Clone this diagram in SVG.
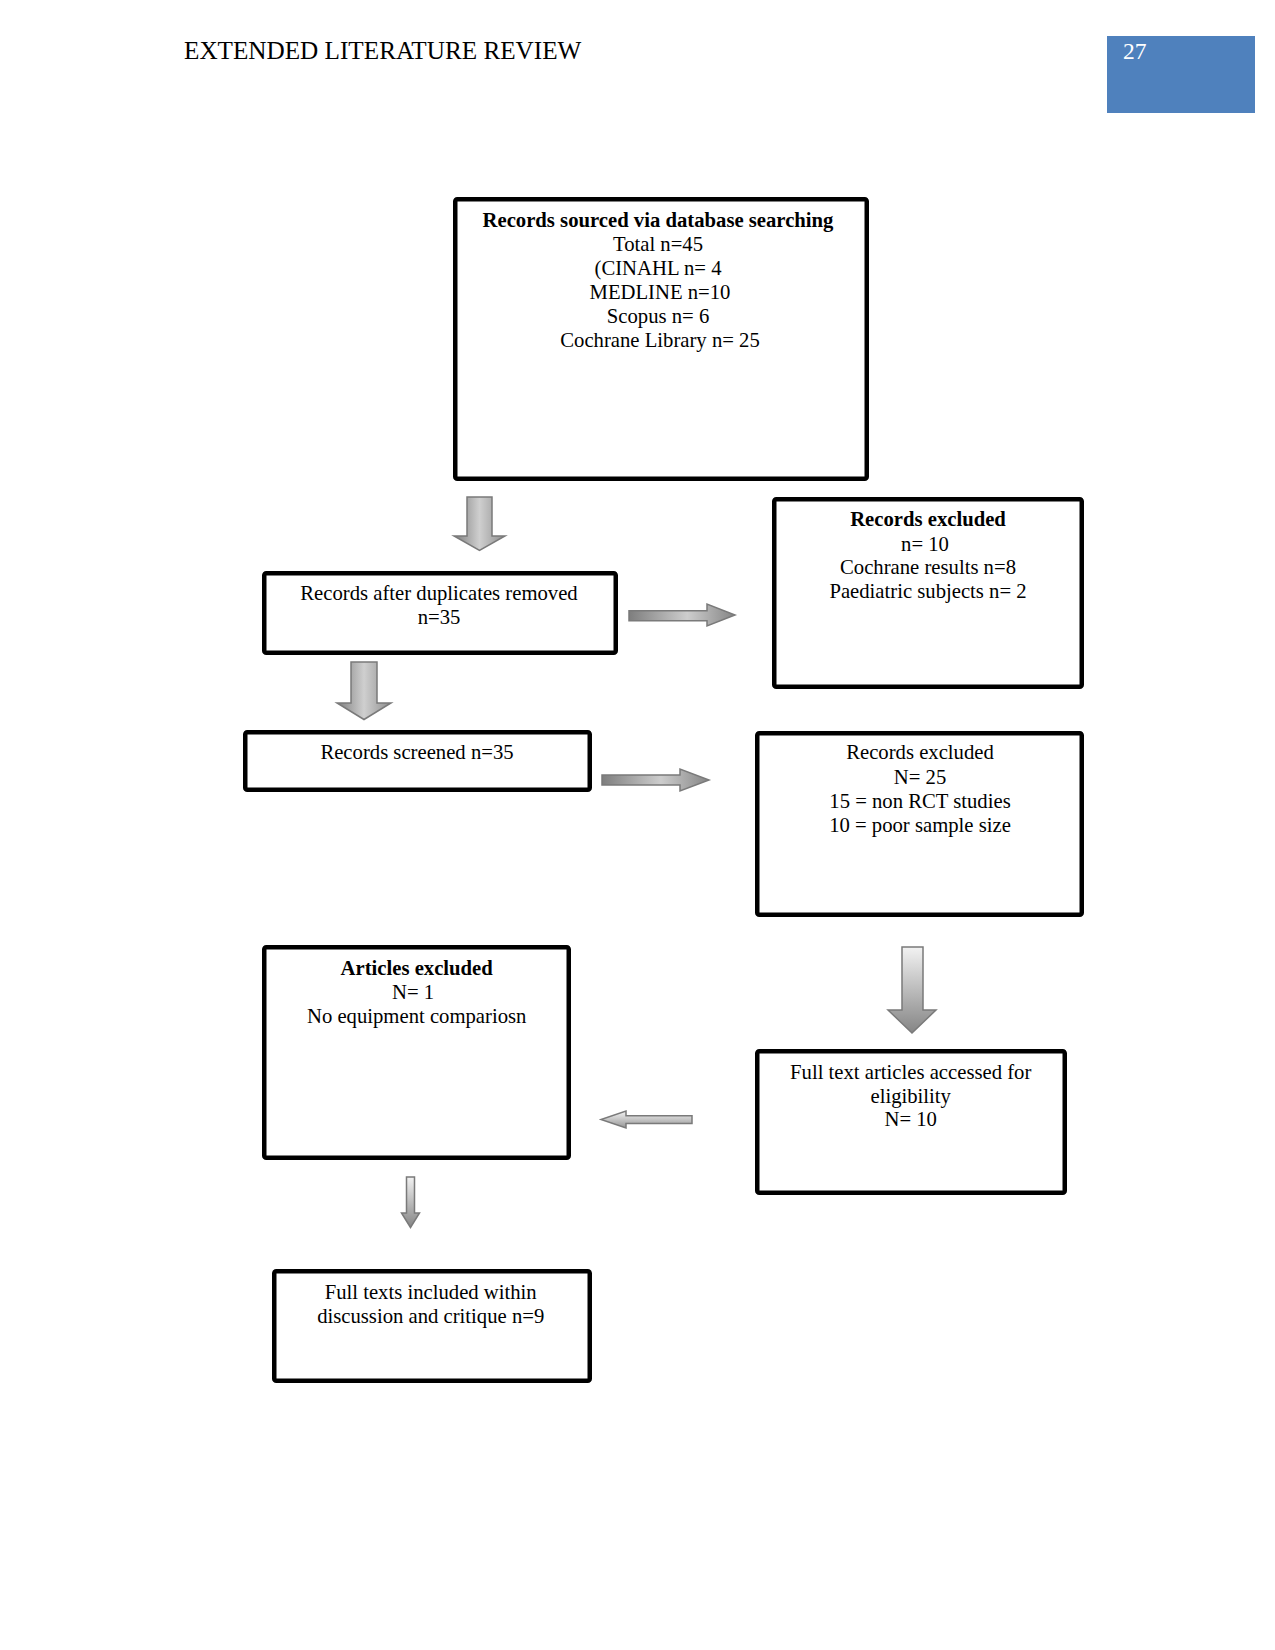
<svg xmlns="http://www.w3.org/2000/svg" width="1275" height="1650" viewBox="0 0 1275 1650">
<defs>
<style>
.box{fill:#fff;stroke:#000;stroke-width:4.5}
.t{font-family:"Liberation Serif","Times New Roman",serif;font-size:20.7px;fill:#000;text-anchor:middle}
.b{font-weight:bold}
.arr{stroke:#7a7a7a;stroke-width:1.5;stroke-linejoin:miter}
.hd{font-family:"Liberation Serif","Times New Roman",serif;font-size:25.2px;fill:#000}
</style>
<linearGradient id="gv" x1="0" y1="0" x2="1" y2="0">
<stop offset="0" stop-color="#7e7e7e"/><stop offset="0.5" stop-color="#cfcfcf"/><stop offset="1" stop-color="#8e8e8e"/>
</linearGradient>
<linearGradient id="gv2" x1="0" y1="0" x2="0" y2="1">
<stop offset="0" stop-color="#f2f2f2"/><stop offset="1" stop-color="#858585"/>
</linearGradient>
<linearGradient id="gh" x1="0" y1="0" x2="1" y2="0">
<stop offset="0" stop-color="#7e7e7e"/><stop offset="0.55" stop-color="#cdcdcd"/><stop offset="1" stop-color="#858585"/>
</linearGradient>
<linearGradient id="gh2" x1="0" y1="0" x2="0" y2="1">
<stop offset="0" stop-color="#f4f4f4"/><stop offset="1" stop-color="#959595"/>
</linearGradient>
</defs>
<rect width="1275" height="1650" fill="#fff"/>
<g id="header">
<text class="hd" x="184" y="59">EXTENDED LITERATURE REVIEW</text>
<rect x="1107" y="36" width="148" height="77" fill="#4F81BD"/>
<text x="1123" y="59" style="font-family:'Liberation Serif',serif;font-size:23.5px;fill:#fff">27</text>
</g>
<g id="connectors">
<polygon class="arr" fill="url(#gv)" points="467,497 492,497 492,536 505,536 479.5,550.5 454,536 467,536"/>
<polygon class="arr" fill="url(#gh)" points="629,610.7 707,610.7 707,604 735,615 707,626 707,620.7 629,620.7"/>
<polygon class="arr" fill="url(#gv)" points="351,662 377,662 377,703 391,703 364,719.5 337,703 351,703"/>
<polygon class="arr" fill="url(#gh)" points="602,775 680,775 680,769 709,780 680,791 680,785 602,785"/>
<polygon class="arr" fill="url(#gv2)" points="902,947 923,947 923,1010 936,1010 912,1033 888,1010 902,1010"/>
<polygon class="arr" fill="url(#gh2)" points="692,1115.7 626,1115.7 626,1111 601,1119.5 626,1128 626,1123.5 692,1123.5"/>
<polygon class="arr" fill="url(#gv2)" points="406.5,1177 414.5,1177 414.5,1213 419.5,1213 410.5,1227.5 401.5,1213 406.5,1213"/>
</g>
<g id="n1">
<rect class="box" x="455.25" y="199.25" width="411.5" height="279.5" rx="2"/>
<text class="t b" x="658" y="227">Records sourced via database searching</text>
<text class="t" x="658" y="251">Total n=45</text>
<text class="t" x="658" y="275">(CINAHL n= 4</text>
<text class="t" x="660" y="299">MEDLINE n=10</text>
<text class="t" x="658" y="322.5">Scopus n= 6</text>
<text class="t" x="660" y="346.5">Cochrane Library n= 25</text>
</g>
<g id="n2">
<rect class="box" x="774.25" y="499.25" width="307.5" height="187.5" rx="2"/>
<text class="t b" x="928" y="526">Records excluded</text>
<text class="t" x="925" y="551">n= 10</text>
<text class="t" x="928" y="574">Cochrane results n=8</text>
<text class="t" x="928" y="598">Paediatric subjects n= 2</text>
</g>
<g id="n3">
<rect class="box" x="264.25" y="573.25" width="351.5" height="79.5" rx="2"/>
<text class="t" x="439" y="600.3">Records after duplicates removed</text>
<text class="t" x="439" y="624.3">n=35</text>
</g>
<g id="n4">
<rect class="box" x="245.25" y="732.25" width="344.5" height="57.5" rx="2"/>
<text class="t" x="417" y="759.3">Records screened n=35</text>
</g>
<g id="n5">
<rect class="box" x="757.25" y="733.25" width="324.5" height="181.5" rx="2"/>
<text class="t" x="920" y="759.3">Records excluded</text>
<text class="t" x="920" y="784.3">N= 25</text>
<text class="t" x="920" y="808.3">15 = non RCT studies</text>
<text class="t" x="920" y="832">10 = poor sample size</text>
</g>
<g id="n6">
<rect class="box" x="264.25" y="947.25" width="304.5" height="210.5" rx="2"/>
<text class="t b" x="416.7" y="975.3">Articles excluded</text>
<text class="t" x="413" y="998.7">N= 1</text>
<text class="t" x="416.7" y="1022.7">No equipment compariosn</text>
</g>
<g id="n7">
<rect class="box" x="757.25" y="1051.25" width="307.5" height="141.5" rx="2"/>
<text class="t" x="910.7" y="1078.7">Full text articles accessed for</text>
<text class="t" x="910.7" y="1102.7">eligibility</text>
<text class="t" x="910.7" y="1126">N= 10</text>
</g>
<g id="n8">
<rect class="box" x="274.25" y="1271.25" width="315.5" height="109.5" rx="2"/>
<text class="t" x="430.7" y="1298.7">Full texts included within</text>
<text class="t" x="430.7" y="1322.7">discussion and critique n=9</text>
</g>
</svg>
